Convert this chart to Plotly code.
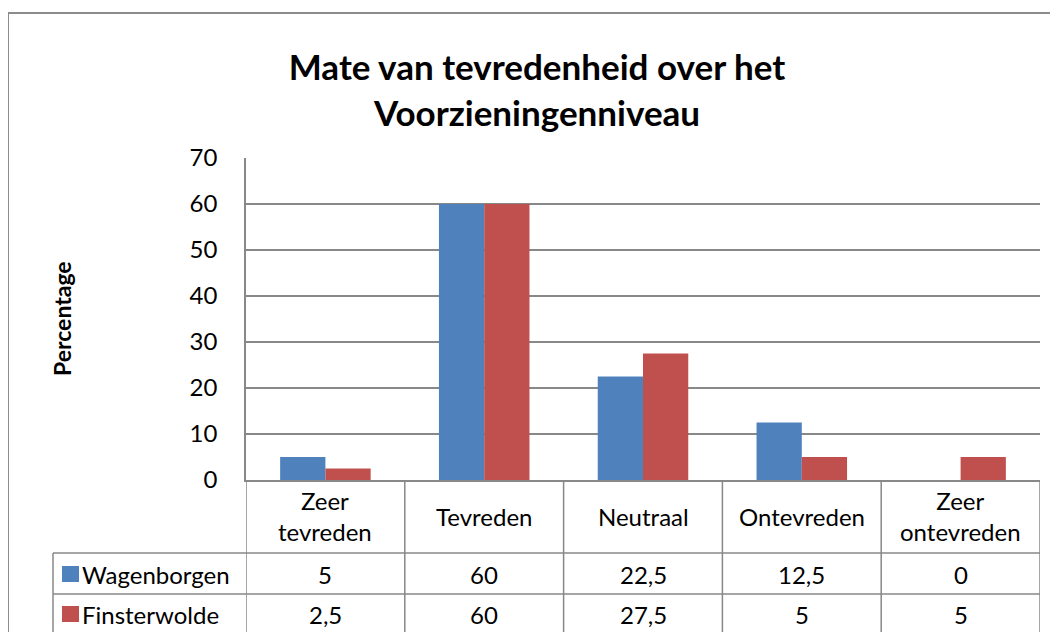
import plotly.graph_objects as go

categories = ["Zeer tevreden", "Tevreden", "Neutraal", "Ontevreden", "Zeer ontevreden"]
category_labels = ["Zeer<br>tevreden", "Tevreden", "Neutraal", "Ontevreden", "Zeer<br>ontevreden"]
series_names = ["Wagenborgen", "Finsterwolde"]
wagenborgen = [5, 60, 22.5, 12.5, 0]
finsterwolde = [2.5, 60, 27.5, 5, 5]
series_values = [wagenborgen, finsterwolde]
series_colors = ["#4F81BD", "#C0504D"]
y_ticks = [0, 10, 20, 30, 40, 50, 60, 70]

FONT = "Lato"
GRID = "#888888"
OFF = 8  # page body margin
W, H = 1058, 632
# target plot area in page pixels: x 246..1040, y 158..480
L, T = 246 - OFF, 158 - OFF
R = W - (1040 - OFF)
B = H - (480 - OFF)
PW, PH = W - L - R, H - T - B
TXT = 24


def px_x(p):
    return (p - OFF - L) / PW


def px_y(p):
    return (H - B - (p - OFF)) / PH


def fmt(v):
    if float(v).is_integer():
        return str(int(v))
    return str(v).replace(".", ",")


fig = go.Figure()
for name, vals, col in zip(series_names, series_values, series_colors):
    fig.add_trace(go.Bar(x=categories, y=vals, name=name, marker_color=col,
                         marker_line_width=0))

shapes = []
annotations = []

row1 = px_y(553)
row2 = px_y(594)
row_bot = px_y(680)
tab_left = px_x(53)
line = dict(color=GRID, width=1.5)

for yy in (row1, row2):
    shapes.append(dict(type="line", xref="paper", yref="paper", x0=tab_left, x1=1,
                       y0=yy, y1=yy, line=line))
for i in range(len(categories) + 1):
    shapes.append(dict(type="line", xref="x", yref="paper", x0=i - 0.5, x1=i - 0.5,
                       y0=row_bot, y1=0, line=line))
shapes.append(dict(type="line", xref="paper", yref="paper", x0=tab_left, x1=tab_left,
                   y0=row_bot, y1=row1, line=line))

for cat, lab in zip(categories, category_labels):
    annotations.append(dict(x=cat, xref="x", y=px_y(516), yref="paper", text=lab,
                            showarrow=False, font=dict(family=FONT, size=TXT, color="#000"),
                            xanchor="center", yanchor="middle"))

row_centers = [px_y(574), px_y(614)]
for name, vals, col, yc in zip(series_names, series_values, series_colors, row_centers):
    for cat, v in zip(categories, vals):
        annotations.append(dict(x=cat, xref="x", y=yc, yref="paper", text=fmt(v),
                                showarrow=False, font=dict(family=FONT, size=TXT, color="#000"),
                                xanchor="center", yanchor="middle"))
    shapes.append(dict(type="rect", xref="paper", yref="paper",
                       x0=px_x(62), x1=px_x(79), y0=yc - 8 / PH, y1=yc + 8 / PH,
                       fillcolor=col, line=dict(width=0)))
    annotations.append(dict(x=px_x(80), xref="paper", y=yc, yref="paper", text=name,
                            showarrow=False, font=dict(family=FONT, size=TXT, color="#000"),
                            xanchor="left", yanchor="middle"))

annotations.append(dict(x=px_x(62), xref="paper", y=0.5, yref="paper", text="<b>Percentage</b>",
                        textangle=-90, showarrow=False,
                        font=dict(family=FONT, size=23, color="#000"),
                        xanchor="center", yanchor="middle"))

shapes.append(dict(type="rect", xref="paper", yref="paper", x0=px_x(8), x1=px_x(1120),
                   y0=px_y(720), y1=px_y(13), line=dict(color="#8c8c8c", width=2),
                   fillcolor="rgba(0,0,0,0)", layer="below"))

fig.update_layout(
    width=W, height=H,
    margin=dict(l=L, r=R, t=T, b=B),
    paper_bgcolor="white", plot_bgcolor="white",
    barmode="group", bargap=0.43, bargroupgap=0,
    showlegend=False,
    title=dict(text="<b>Mate van tevredenheid over het<br>Voorzieningenniveau</b>",
               x=(537 - OFF) / W, xanchor="center", xref="container",
               y=1 - (80 - OFF) / H, yanchor="middle", yref="container",
               font=dict(family=FONT, size=35, color="#000")),
    font=dict(family=FONT, size=TXT, color="#000"),
    shapes=shapes,
    annotations=annotations,
)
fig.update_xaxes(range=[-0.5, len(categories) - 0.5], showticklabels=False,
                 showline=True, linecolor=GRID, linewidth=1.5, showgrid=False,
                 zeroline=False, ticks="")
fig.update_yaxes(range=[0, 70], tickvals=y_ticks, showgrid=True, gridcolor=GRID,
                 gridwidth=1.5, showline=True, linecolor=GRID, linewidth=1.5,
                 zeroline=False, ticks="", ticklabelstandoff=22,
                 tickfont=dict(family=FONT, size=TXT, color="#000"))

fig.write_html("out.html")
